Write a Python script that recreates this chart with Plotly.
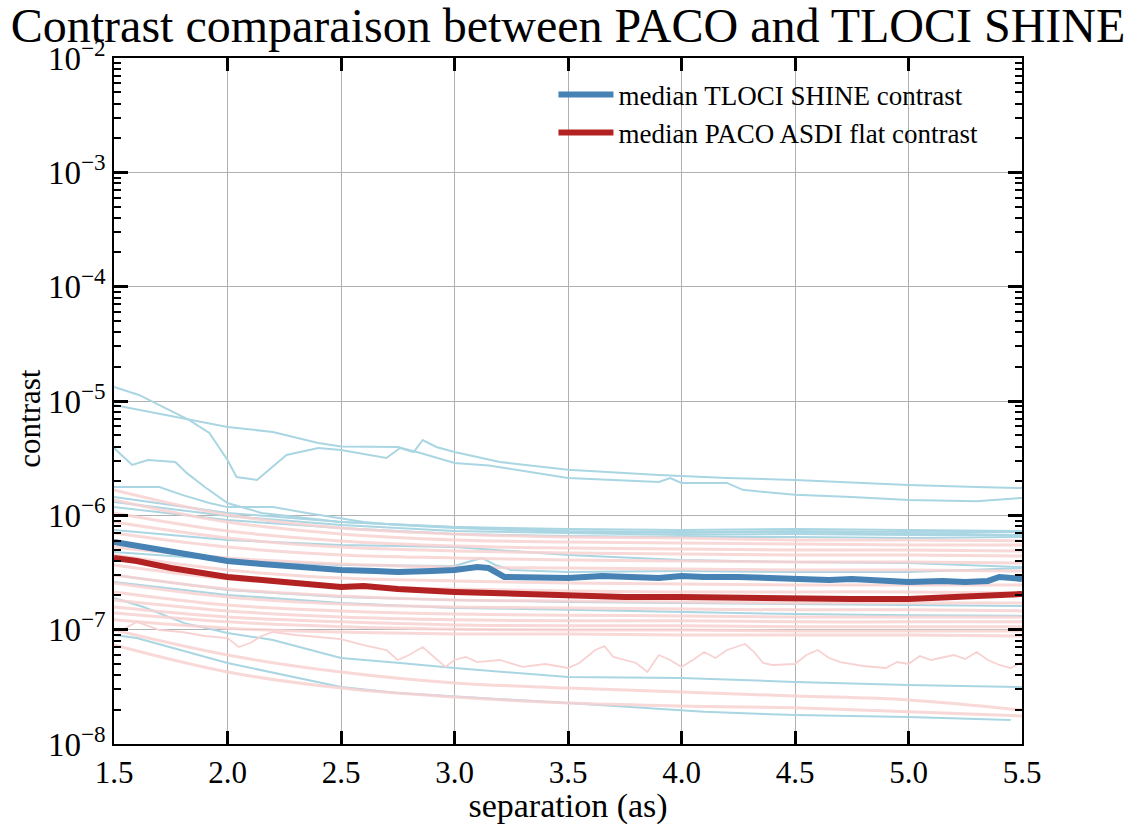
import plotly.graph_objects as go

# ---------------- data ----------------
X9 = [1.5, 2.0, 2.5, 3.0, 3.5, 4.0, 4.5, 5.0, 5.5]

# individual TLOCI SHINE contrast curves (light blue)
tloci_b1_x = [1.5, 1.61, 1.83, 1.92, 2.0, 2.04, 2.13, 2.2, 2.26, 2.4, 2.5, 2.7, 2.76, 2.82,
              2.86, 2.92, 3.0, 3.2, 3.5, 3.9, 4.2, 4.5, 4.8, 5.0, 5.3, 5.5]
tloci_b1_y = [1.33e-5, 1.13e-5, 6.83e-6, 5.25e-6, 3.05e-6, 2.16e-6, 2.04e-6, 2.65e-6, 3.37e-6,
              3.88e-6, 3.72e-6, 3.17e-6, 3.88e-6, 3.58e-6, 4.56e-6, 3.96e-6, 3.58e-6, 2.93e-6,
              2.50e-6, 2.25e-6, 2.12e-6, 2.04e-6, 1.92e-6, 1.84e-6, 1.77e-6, 1.73e-6]

tloci_b2_x = [1.5, 1.83, 2.0, 2.2, 2.4, 2.5, 2.75, 2.85, 3.0, 3.15, 3.5, 3.9, 3.95, 4.0,
              4.2, 4.27, 4.5, 4.75, 5.0, 5.3, 5.5]
tloci_b2_y = [9.23e-6, 6.83e-6, 5.93e-6, 5.36e-6, 4.29e-6, 4.00e-6, 3.96e-6, 3.51e-6, 2.87e-6,
              2.73e-6, 2.12e-6, 1.96e-6, 2.12e-6, 1.92e-6, 1.92e-6, 1.67e-6, 1.51e-6, 1.45e-6,
              1.36e-6, 1.33e-6, 1.42e-6]

tloci_b3_x = [1.5, 1.58, 1.65, 1.77, 1.82, 1.9, 2.0, 2.15, 2.5, 3.0, 3.5, 4.0, 4.5, 5.0, 5.5]
tloci_b3_y = [3.88e-6, 2.76e-6, 3.05e-6, 2.93e-6, 2.35e-6, 1.77e-6, 1.28e-6, 1.05e-6, 8.74e-7,
              7.91e-7, 7.60e-7, 7.44e-7, 7.60e-7, 7.44e-7, 7.30e-7]

tloci_b4_x = [1.5, 1.7, 1.8, 1.92, 2.0, 2.2, 2.35, 2.6, 2.75, 3.0, 3.5, 4.0, 4.5, 5.0, 5.5]
tloci_b4_y = [1.77e-6, 1.77e-6, 1.51e-6, 1.28e-6, 1.18e-6, 1.18e-6, 1.05e-6, 8.74e-7, 8.23e-7,
              7.75e-7, 7.15e-7, 7.01e-7, 7.15e-7, 6.87e-7, 7.15e-7]

tloci_b5_y = [1.45e-6, 1.05e-6, 8.74e-7, 7.91e-7, 7.30e-7, 7.15e-7, 7.30e-7, 7.15e-7, 7.30e-7]
tloci_b6_y = [1.31e-6, 9.87e-7, 8.23e-7, 7.30e-7, 7.01e-7, 6.73e-7, 6.87e-7, 6.73e-7, 6.73e-7]
tloci_b7_y = [1.18e-6, 9.10e-7, 7.75e-7, 6.87e-7, 6.60e-7, 6.46e-7, 6.46e-7, 6.34e-7, 6.46e-7]
tloci_b8_y = [7.44e-7, 6.09e-7, 5.50e-7, 5.28e-7, 4.50e-7, 4.07e-7, 3.91e-7, 3.83e-7, 3.53e-7]

tloci_b9_x = [1.5, 2.0, 2.5, 3.0, 3.12, 3.18, 3.25, 3.5, 4.0, 4.5, 5.0, 5.5]
tloci_b9_y = [4.78e-7, 4.07e-7, 3.68e-7, 3.61e-7, 4.24e-7, 3.68e-7, 3.33e-7, 3.19e-7, 3.26e-7,
              3.19e-7, 3.19e-7, 3.46e-7]

tloci_b10_y = [2.61e-7, 2.01e-7, 1.71e-7, 1.55e-7, 1.49e-7, 1.43e-7, 1.37e-7, 1.34e-7, 1.32e-7]
tloci_b10b_y = [3.01e-7, 2.22e-7, 1.93e-7, 1.82e-7, 1.75e-7, 1.71e-7, 1.68e-7, 1.64e-7, 1.61e-7]

tloci_b11_x = [1.5, 1.63, 1.81, 2.0, 2.2, 2.5, 2.76, 3.0, 3.5, 4.0, 4.5, 5.0, 5.5]
tloci_b11_y = [1.89e-7, 1.58e-7, 1.14e-7, 9.35e-8, 8.12e-8, 5.65e-8, 5.11e-8, 4.62e-8, 3.85e-8,
               3.78e-8, 3.49e-8, 3.28e-8, 3.15e-8]

tloci_b12_x = [1.5, 1.6, 2.0, 2.4, 2.5, 2.75, 3.5, 4.1, 4.5, 5.0, 5.45]
tloci_b12_y = [8.98e-8, 8.45e-8, 5.11e-8, 3.49e-8, 3.15e-8, 2.79e-8, 2.28e-8, 1.91e-8, 1.79e-8,
               1.72e-8, 1.62e-8]

# individual PACO ASDI flat contrast curves (pink), sampled at X9
paco_p1 = [1.67e-6, 1.01e-6, 7.75e-7, 6.87e-7, 6.46e-7, 6.34e-7, 6.09e-7, 6.09e-7, 6.00e-7]
paco_p2 = [1.36e-6, 8.74e-7, 6.87e-7, 6.09e-7, 5.85e-7, 5.73e-7, 5.62e-7, 5.50e-7, 5.50e-7]
paco_p3 = [1.05e-6, 7.30e-7, 5.97e-7, 5.39e-7, 5.18e-7, 5.08e-7, 4.98e-7, 4.98e-7, 4.88e-7]
paco_p4 = [8.74e-7, 6.34e-7, 5.28e-7, 4.88e-7, 4.69e-7, 4.59e-7, 4.50e-7, 4.50e-7, 4.41e-7]
paco_p5 = [7.01e-7, 5.28e-7, 4.50e-7, 4.24e-7, 4.07e-7, 3.99e-7, 3.91e-7, 3.91e-7, 3.83e-7]
paco_p6 = [5.28e-7, 4.24e-7, 3.76e-7, 3.53e-7, 3.46e-7, 3.39e-7, 3.33e-7, 3.33e-7, 3.26e-7]
paco_p7 = [4.50e-7, 3.33e-7, 2.83e-7, 2.67e-7, 2.56e-7, 2.51e-7, 2.46e-7, 2.46e-7, 2.46e-7]
paco_p8 = [3.68e-7, 2.78e-7, 2.41e-7, 2.27e-7, 2.18e-7, 2.14e-7, 2.14e-7, 2.14e-7, 2.09e-7]
paco_p9 = [3.01e-7, 2.27e-7, 1.97e-7, 1.82e-7, 1.78e-7, 1.75e-7, 1.71e-7, 1.71e-7, 1.71e-7]
paco_p10 = [2.56e-7, 1.93e-7, 1.68e-7, 1.58e-7, 1.55e-7, 1.52e-7, 1.49e-7, 1.49e-7, 1.46e-7]
paco_p11 = [2.14e-7, 1.64e-7, 1.46e-7, 1.37e-7, 1.34e-7, 1.32e-7, 1.29e-7, 1.29e-7, 1.29e-7]
paco_p12 = [1.82e-7, 1.46e-7, 1.29e-7, 1.22e-7, 1.195e-7, 1.195e-7, 1.17e-7, 1.17e-7, 1.17e-7]
paco_p13 = [1.58e-7, 1.29e-7, 1.17e-7, 1.10e-7, 1.08e-7, 1.08e-7, 1.06e-7, 1.06e-7, 1.06e-7]
paco_p14 = [1.40e-7, 1.17e-7, 1.06e-7, 1.01e-7, 9.93e-8, 9.93e-8, 9.73e-8, 9.73e-8, 9.73e-8]
paco_p15 = [1.22e-7, 1.03e-7, 9.54e-8, 9.16e-8, 9.16e-8, 8.98e-8, 8.98e-8, 8.98e-8, 8.80e-8]
paco_p16 = [9.93e-8, 6.00e-8, 4.26e-8, 3.42e-8, 3.09e-8, 2.85e-8, 2.63e-8, 2.43e-8, 1.98e-8]
paco_p17 = [7.34e-8, 4.26e-8, 3.09e-8, 2.58e-8, 2.28e-8, 2.15e-8, 2.07e-8, 1.91e-8, 1.76e-8]

paco_noisy_x = [1.55, 1.6, 1.65, 1.7, 1.8, 1.9, 2.0, 2.05, 2.1, 2.15, 2.2, 2.3, 2.4, 2.5, 2.6,
                2.7, 2.75, 2.8, 2.86, 2.9, 2.96, 3.0, 3.05, 3.1, 3.2, 3.3, 3.4, 3.5, 3.55, 3.62,
                3.66, 3.7, 3.8, 3.85, 3.9, 3.95, 4.0, 4.05, 4.1, 4.15, 4.2, 4.28, 4.32, 4.36,
                4.4, 4.5, 4.55, 4.6, 4.65, 4.7, 4.8, 4.9, 4.95, 5.0, 5.05, 5.1, 5.2, 5.25, 5.3,
                5.35, 5.4, 5.45, 5.5]
paco_noisy_y = [1.03e-7, 1.17e-7, 1.08e-7, 9.93e-8, 9.54e-8, 8.80e-8, 8.45e-8, 7.05e-8, 7.64e-8,
                8.80e-8, 9.54e-8, 8.98e-8, 8.63e-8, 8.28e-8, 7.34e-8, 6.64e-8, 5.43e-8, 6.00e-8,
                7.05e-8, 6.00e-8, 4.72e-8, 5.43e-8, 5.77e-8, 5.21e-8, 5.43e-8, 4.72e-8, 5.01e-8,
                4.62e-8, 5.11e-8, 6.64e-8, 7.19e-8, 5.77e-8, 5.11e-8, 4.26e-8, 6.00e-8, 5.43e-8,
                4.72e-8, 5.43e-8, 6.37e-8, 5.65e-8, 6.64e-8, 7.49e-8, 6.37e-8, 5.11e-8, 4.91e-8,
                5.01e-8, 6.00e-8, 6.64e-8, 5.65e-8, 5.21e-8, 4.81e-8, 4.62e-8, 5.21e-8, 5.01e-8,
                5.88e-8, 5.43e-8, 6.00e-8, 5.54e-8, 6.37e-8, 5.43e-8, 4.91e-8, 4.62e-8, 5.21e-8]

# medians
median_tloci_x = [1.5, 1.6, 1.75, 1.9, 2.0, 2.15, 2.25, 2.4, 2.5, 2.65, 2.75, 2.9, 3.0, 3.1,
                  3.15, 3.22, 3.35, 3.5, 3.65, 3.75, 3.9, 4.0, 4.1, 4.25, 4.4, 4.5, 4.65, 4.75,
                  4.9, 5.0, 5.15, 5.25, 5.35, 5.4, 5.5]
median_tloci_y = [5.85e-7, 5.39e-7, 4.78e-7, 4.24e-7, 3.99e-7, 3.76e-7, 3.61e-7, 3.46e-7, 3.33e-7,
                  3.26e-7, 3.19e-7, 3.26e-7, 3.33e-7, 3.53e-7, 3.46e-7, 2.89e-7, 2.89e-7, 2.83e-7,
                  2.95e-7, 2.89e-7, 2.83e-7, 2.95e-7, 2.89e-7, 2.89e-7, 2.83e-7, 2.72e-7, 2.72e-7,
                  2.78e-7, 2.67e-7, 2.61e-7, 2.67e-7, 2.61e-7, 2.67e-7, 2.89e-7, 2.78e-7]

median_paco_x = [1.5, 1.6, 1.75, 1.9, 2.0, 2.25, 2.5, 2.6, 2.75, 3.0, 3.25, 3.5, 3.75, 4.0,
                 4.25, 4.5, 4.75, 5.0, 5.1, 5.25, 5.4, 5.5]
median_paco_y = [4.24e-7, 3.99e-7, 3.46e-7, 3.13e-7, 2.89e-7, 2.61e-7, 2.36e-7, 2.41e-7, 2.27e-7,
                 2.14e-7, 2.05e-7, 1.97e-7, 1.93e-7, 1.93e-7, 1.89e-7, 1.85e-7, 1.85e-7, 1.85e-7,
                 1.89e-7, 1.97e-7, 2.01e-7, 2.05e-7]

x_ticks = [1.5, 2.0, 2.5, 3.0, 3.5, 4.0, 4.5, 5.0, 5.5]
x_ticklabels = ["1.5", "2.0", "2.5", "3.0", "3.5", "4.0", "4.5", "5.0", "5.5"]
y_exponents = [-8, -7, -6, -5, -4, -3, -2]

# ---------------- figure ----------------
FONT = "Liberation Serif, Times New Roman, serif"
BLUE_THIN = "#a9d6e2"
PINK_THIN = "#f8d2d2"

fig = go.Figure()

tloci_curves = [
    (tloci_b1_x, tloci_b1_y), (tloci_b2_x, tloci_b2_y), (tloci_b3_x, tloci_b3_y),
    (tloci_b4_x, tloci_b4_y), (X9, tloci_b5_y), (X9, tloci_b6_y), (X9, tloci_b7_y),
    (X9, tloci_b8_y), (tloci_b9_x, tloci_b9_y), (X9, tloci_b10_y), (X9, tloci_b10b_y),
    (tloci_b11_x, tloci_b11_y), (tloci_b12_x, tloci_b12_y),
]
for xs, ys in tloci_curves:
    fig.add_trace(go.Scatter(x=xs, y=ys, mode="lines", line=dict(color=BLUE_THIN, width=2),
                             showlegend=False, hoverinfo="skip"))

paco_curves = [paco_p1, paco_p2, paco_p3, paco_p4, paco_p5, paco_p6, paco_p7, paco_p8,
               paco_p9, paco_p10, paco_p11, paco_p12, paco_p13, paco_p14, paco_p15,
               paco_p16, paco_p17]
for ys in paco_curves:
    fig.add_trace(go.Scatter(x=X9, y=ys, mode="lines",
                             line=dict(color=PINK_THIN, width=3, shape="spline"),
                             opacity=0.85, showlegend=False, hoverinfo="skip"))
fig.add_trace(go.Scatter(x=paco_noisy_x, y=paco_noisy_y, mode="lines",
                         line=dict(color=PINK_THIN, width=1.8), showlegend=False, hoverinfo="skip"))

fig.add_trace(go.Scatter(x=median_tloci_x, y=median_tloci_y, mode="lines",
                         line=dict(color="#4682b4", width=6),
                         name="median TLOCI SHINE contrast"))
fig.add_trace(go.Scatter(x=median_paco_x, y=median_paco_y, mode="lines",
                         line=dict(color="#b22222", width=6),
                         name="median PACO ASDI flat contrast"))

minor_vals = [m * 10.0 ** e for e in range(-8, -2) for m in range(2, 10)]

fig.update_layout(
    width=1132, height=825,
    margin=dict(l=114, r=110, t=58, b=81, autoexpand=False),
    paper_bgcolor="white", plot_bgcolor="white",
    font=dict(family=FONT, color="black", size=26),
    title=dict(text="Contrast comparaison between PACO and TLOCI SHINE",
               x=0.5, xref="paper", xanchor="center", y=0.99, yref="container",
               yanchor="top", pad=dict(t=0, b=0),
               font=dict(family=FONT, size=48, color="black")),
    legend=dict(x=0.484, y=0.982, xanchor="left", yanchor="top",
                bgcolor="rgba(0,0,0,0)", font=dict(family=FONT, size=27, color="black"),
                itemwidth=55, tracegroupgap=0),
    annotations=[dict(text="contrast", xref="paper", yref="paper", x=-0.093, y=0.475,
                      xanchor="center", yanchor="middle", textangle=-90, showarrow=False,
                      font=dict(family=FONT, size=31, color="black"))],
)

fig.update_xaxes(
    range=[1.5, 5.5], autorange=False, tickvals=x_ticks, ticktext=x_ticklabels,
    ticks="inside", ticklen=13, tickwidth=2.5, tickcolor="black",
    showline=True, linecolor="black", linewidth=1.5, mirror="allticks",
    showgrid=True, gridcolor="#b0b0b0", gridwidth=1, zeroline=False,
    tickfont=dict(family=FONT, size=31), automargin=False,
    title=dict(text="separation (as)", font=dict(family=FONT, size=34), standoff=14),
)
fig.update_yaxes(
    type="log", range=[-8, -2], autorange=False,
    tickvals=[10.0 ** e for e in y_exponents],
    ticktext=["10<sup>\u2212%d</sup>" % (-e) for e in y_exponents],
    ticks="inside", ticklen=14, tickwidth=2.5, tickcolor="black",
    minor=dict(tickmode="array", tickvals=minor_vals, ticks="inside", ticklen=7, tickwidth=2,
               tickcolor="black", showgrid=False),
    showline=True, linecolor="black", linewidth=1.5, mirror="allticks",
    showgrid=True, gridcolor="#b0b0b0", gridwidth=1, zeroline=False,
    tickfont=dict(family=FONT, size=33), automargin=False,
)

fig.write_html("out.html")
